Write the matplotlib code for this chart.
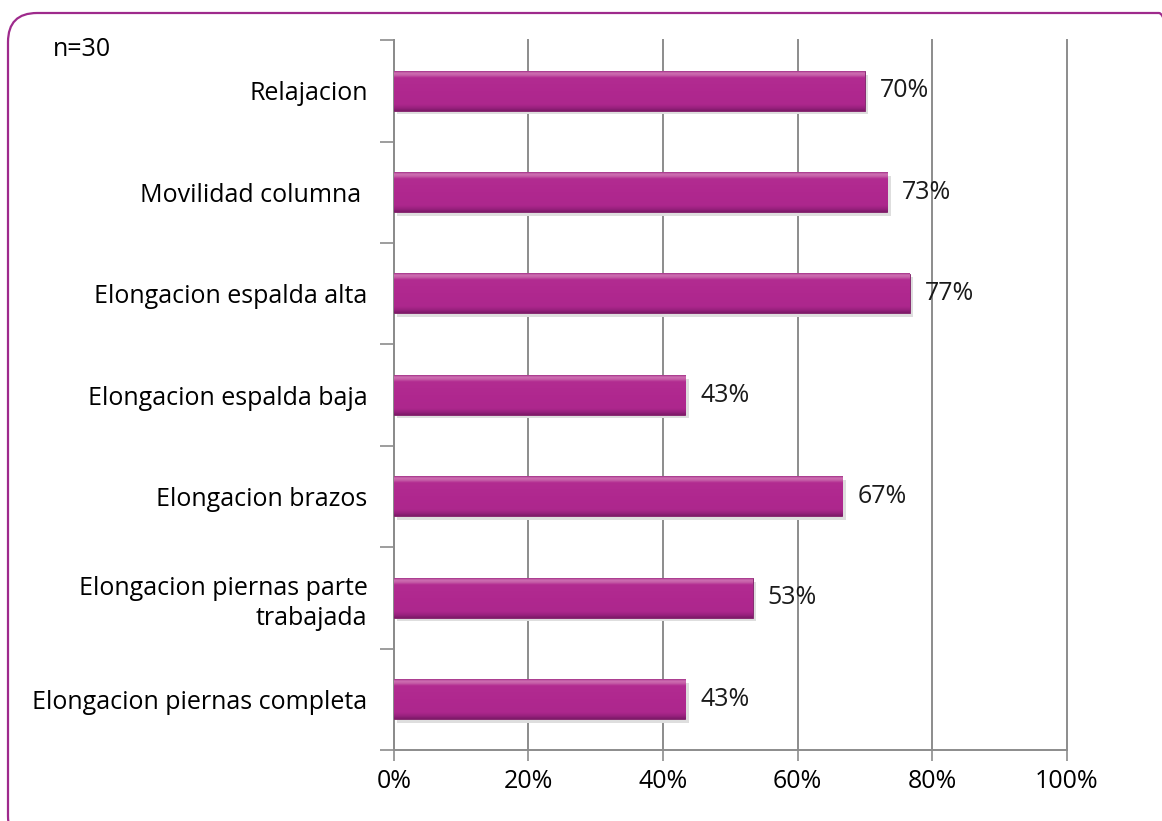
import matplotlib.pyplot as plt
from matplotlib.patches import FancyBboxPatch
from matplotlib.colors import LinearSegmentedColormap
import numpy as np

plt.rcParams['font.family'] = ['Open Sans', 'DejaVu Sans']

# respuestas sobre n=30 participantes
categorias = ['Relajacion', 'Movilidad columna ', 'Elongacion espalda alta',
              'Elongacion espalda baja', 'Elongacion brazos',
              'Elongacion piernas parte\ntrabajada', 'Elongacion piernas completa']
conteos = [21, 22, 23, 13, 20, 16, 13]
n_total = 30
ticks_x = [0, 20, 40, 60, 80, 100]

valores = np.array(conteos) / n_total * 100
pos = np.arange(len(categorias))[::-1]

fig = plt.figure(figsize=(11.62, 8.21), dpi=100)
ax = fig.add_axes([0.339, 0.0865, 0.579, 0.8645])

# marco redondeado
marco = FancyBboxPatch((8 / 1162, 1 - 845 / 821), 1180 / 1162, (845 - 13) / 821,
                       boxstyle='round,pad=0,rounding_size=0.025',
                       transform=fig.transFigure, facecolor='none',
                       edgecolor='#9e2a8c', linewidth=1.6, zorder=0,
                       mutation_aspect=1162 / 821)
fig.patches.append(marco)

alto = 0.39
relleno = LinearSegmentedColormap.from_list(
    'bisel', [(0.0, '#7e1a68'), (0.07, '#98217e'), (0.16, '#ad278d'),
              (0.5, '#b0288f'), (0.84, '#b22c91'), (0.9, '#c55ea7'),
              (0.96, '#cf70b3'), (1.0, '#a5358a')])
degradado = np.linspace(0, 1, 80).reshape(-1, 1)

# sombra
ax.barh(pos - 0.035, valores, height=alto, left=0.5, color='#dedede', zorder=2)
barras = ax.barh(pos, valores, height=alto, color='#b0288f', edgecolor='#7d1e66',
                 linewidth=0.6, zorder=3)
for b in barras:
    x0, y0, w, h = b.get_x(), b.get_y(), b.get_width(), b.get_height()
    ax.imshow(degradado, cmap=relleno, extent=(x0, x0 + w, y0, y0 + h),
              origin='lower', aspect='auto', zorder=3.5, interpolation='bilinear')

for y, v in zip(pos, valores):
    ax.text(v + 2.2, y, f'{v:.0f}%', va='center', ha='left', fontsize=18,
            color='#1a1a1a', zorder=5)

ax.set_xlim(0, 100)
ax.set_ylim(-0.5, len(categorias) - 0.5)
ax.set_xticks(ticks_x)
ax.set_xticklabels([f'{t}%' for t in ticks_x], fontsize=18)
ax.set_yticks(pos)
ax.set_yticklabels(categorias, fontsize=18, linespacing=1.25)
ax.set_yticks(np.arange(-0.5, len(categorias)), minor=True)
ax.tick_params(axis='y', which='major', length=0, pad=19)
ax.tick_params(axis='y', which='minor', length=10, width=1.2, color='#8c8c8c')
ax.tick_params(axis='x', length=8, width=1.2, color='#8c8c8c', pad=6)
ax.xaxis.grid(True, color='#8c8c8c', linewidth=1.4, zorder=1)
for linea in ax.get_xgridlines():
    linea.set_clip_on(False)
ax.set_axisbelow(True)

for lado in ['top', 'right']:
    ax.spines[lado].set_visible(False)
for lado in ['left', 'bottom']:
    ax.spines[lado].set_color('#8c8c8c')
    ax.spines[lado].set_linewidth(1.4)

fig.text(53 / 1162, 1 - 49 / 821, 'n=30', fontsize=18, va='center')

fig.savefig('out.png', dpi=100)
